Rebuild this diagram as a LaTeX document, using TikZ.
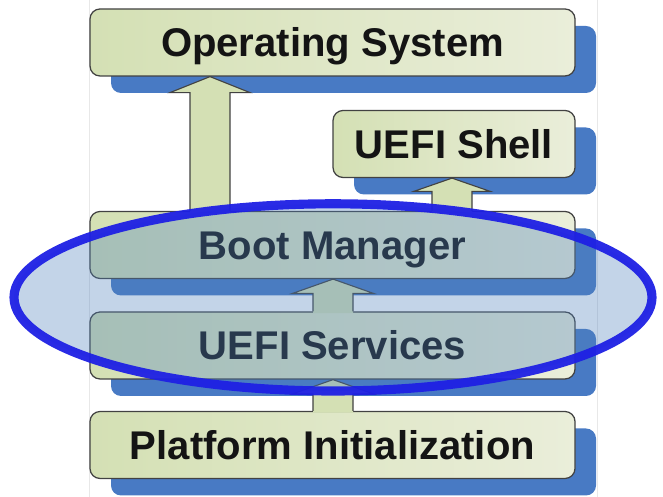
\documentclass[tikz,border=0pt]{standalone}
\usepackage{fontspec}
\setmainfont{Liberation Sans}
\usepackage{tikz}
\usetikzlibrary{shadows}

\definecolor{boxgreen}{RGB}{212,224,180}
\definecolor{boxlight}{RGB}{234,238,218}
\definecolor{shadowblue}{RGB}{72,122,196}
\definecolor{ringblue}{RGB}{30,32,228}
\definecolor{hazeblue}{RGB}{79,129,189}
\definecolor{edgegray}{RGB}{66,66,66}
\definecolor{framegray}{RGB}{232,232,232}

\begin{document}
\begin{tikzpicture}[layer/.style={draw=edgegray, line width=0.9pt, rounded corners=0.25cm, left color=boxgreen, right color=boxlight, minimum width=12.125cm, minimum height=1.675cm, text height=20.4pt, text depth=0pt, text=black!92, font=\fontsize{28.5}{34}\selectfont\bfseries, drop shadow={shadow xshift=0.525cm, shadow yshift=-0.425cm, fill=shadowblue, opacity=1}}, uparrow/.style={draw=edgegray, line width=0.8pt, line join=miter}, ring/.style={draw=ringblue, line width=6.5pt, fill=hazeblue, fill opacity=0.34, draw opacity=0.95}]

\useasboundingbox (0,0) rectangle (16.575,12.425);
\draw[framegray] (2.225,0) -- (2.225,12.425);
\draw[framegray] (14.925,0) -- (14.925,12.425);

\node[layer] (os) at (8.3125,11.3625) {Operating System};
\node[layer, minimum width=6.05cm] (shell) at (11.35,8.825) {UEFI Shell};
\node[layer] (bm) at (8.3125,6.3) {Boot Manager};
\node[layer] (svc) at (8.3125,3.7875) {UEFI Services};
\node[layer] (pi) at (8.3125,1.3) {Platform Initialization};

% block arrows: from/to/x/shaft/head/head length
\foreach \from/\to/\ax/\sw/\hw/\hl in {bm/os/5.25/0.5/1.0/0.4, bm/shell/11.3/0.5/0.95/0.33, svc/bm/8.325/0.5/1.02/0.36, pi/svc/8.325/0.5/1.02/0.36}
{
\coordinate (tail) at (\ax,0 |- \from.north);
\coordinate (tip) at (\ax,0 |- \to.south);
\fill[boxgreen] ([xshift=-\sw cm,yshift=-1.2pt]tail) -- ([xshift=-\sw cm,yshift=-\hl cm]tip) -- ([xshift=-\hw cm,yshift=-\hl cm]tip) -- (tip) -- ([xshift=\hw cm,yshift=-\hl cm]tip) -- ([xshift=\sw cm,yshift=-\hl cm]tip) -- ([xshift=\sw cm,yshift=-1.2pt]tail) -- cycle;
\draw[uparrow] ([xshift=-\sw cm]tail) -- ([xshift=-\sw cm,yshift=-\hl cm]tip) -- ([xshift=-\hw cm,yshift=-\hl cm]tip) -- (tip) -- ([xshift=\hw cm,yshift=-\hl cm]tip) -- ([xshift=\sw cm,yshift=-\hl cm]tip) -- ([xshift=\sw cm]tail);
}

\draw[ring] (8.325,4.99) ellipse [x radius=7.975, y radius=2.34];
\end{tikzpicture}
\end{document}
